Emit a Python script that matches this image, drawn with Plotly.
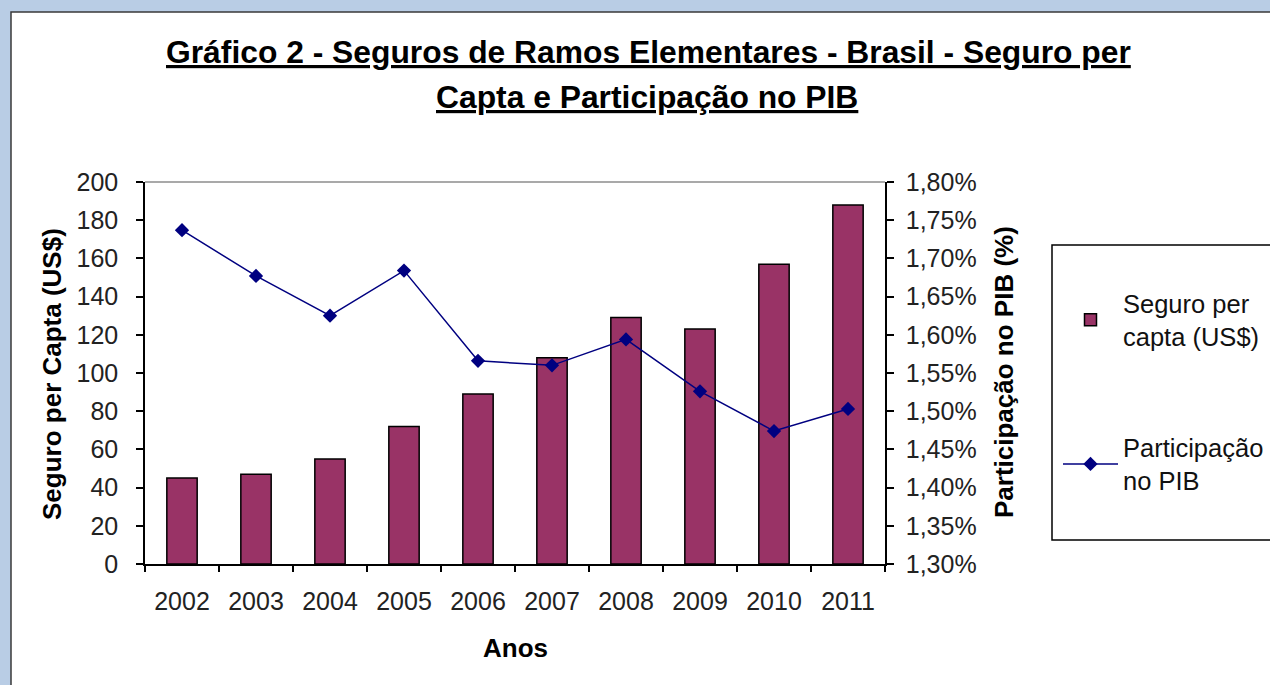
import plotly.graph_objects as go

anos = ["2002", "2003", "2004", "2005", "2006", "2007", "2008", "2009", "2010", "2011"]
seguro_per_capta = [45, 47, 55, 72, 89, 108, 129, 123, 157, 188]
participacao_pib = [1.737, 1.677, 1.625, 1.684, 1.566, 1.560, 1.594, 1.526, 1.474, 1.503]

W, H = 1270, 685
FONT = "Liberation Sans, Arial, sans-serif"

def px(x):
    return x / W

def py(y):
    return 1 - y / H

fig = go.Figure()
fig.add_trace(go.Bar(
    x=anos, y=seguro_per_capta, name="Seguro per<br>capta (US$)",
    marker=dict(color="#993366", line=dict(color="#000000", width=1.5)),
    width=0.41, legendgroup="a", yaxis="y",
))
fig.add_trace(go.Scatter(
    x=anos, y=participacao_pib, name="Participação<br>no PIB",
    mode="lines+markers",
    line=dict(color="#000080", width=1.5),
    marker=dict(symbol="diamond", size=11, color="#000080"),
    legendgroup="b", yaxis="y2",
))

tickfont = dict(family=FONT, size=25, color="#222222")

def ann(text, x, y, size, angle=0):
    return dict(text=text, textangle=angle, xref="paper", yref="paper",
                x=px(x), y=py(y), xanchor="center", yanchor="middle",
                showarrow=False, font=dict(family=FONT, size=size, color="#000000"))

fig.update_layout(
    template="none",
    width=W, height=H,
    paper_bgcolor="#B9CDE5",
    plot_bgcolor="rgba(0,0,0,0)",
    margin=dict(l=0, r=0, t=0, b=0, pad=0, autoexpand=False),
    separators=",.",
    showlegend=True,
    bargap=0.59,
    xaxis=dict(
        domain=[px(145), px(885)], automargin=False,
        type="category", range=[-0.5, len(anos) - 0.5],
        showline=True, linecolor="#000000", linewidth=1.5,
        ticks="outside", ticklen=6, tickcolor="#000000", tickwidth=1.5,
        tickson="boundaries",
        showgrid=False, zeroline=False,
        tickfont=tickfont, ticklabelstandoff=14,
    ),
    yaxis=dict(
        domain=[py(564), py(182)], automargin=False,
        range=[0, 200], dtick=20,
        showline=True, linecolor="#000000", linewidth=1.5,
        ticks="outside", ticklen=7, tickcolor="#000000", tickwidth=1.5,
        showgrid=False, zeroline=False,
        tickfont=tickfont, ticklabelstandoff=13,
    ),
    yaxis2=dict(
        overlaying="y", side="right", anchor="x", automargin=False,
        range=[1.30, 1.80], dtick=0.05, tickformat=".2f", ticksuffix="%",
        showline=True, linecolor="#000000", linewidth=1.5,
        ticks="outside", ticklen=7, tickcolor="#000000", tickwidth=1.5,
        showgrid=False, zeroline=False,
        tickfont=tickfont, ticklabelstandoff=7,
    ),
    legend=dict(
        x=px(1058), y=py(280), xanchor="left", yanchor="top",
        bgcolor="rgba(0,0,0,0)", borderwidth=0,
        font=dict(family=FONT, size=25.5, color="#111111"),
        traceorder="grouped", tracegroupgap=75,
        itemwidth=55,
    ),
    shapes=[
        dict(type="rect", xref="paper", yref="paper",
             x0=px(11), x1=1.02, y0=-0.02, y1=py(12),
             fillcolor="#FFFFFF", line=dict(color="#3A3A3A", width=1.5), layer="below"),
        dict(type="line", xref="x domain", yref="y domain",
             x0=0, x1=1, y0=1, y1=1, line=dict(color="#8C8C8C", width=1.5)),
        dict(type="rect", xref="paper", yref="paper",
             x0=px(1052), x1=1.02, y0=py(540), y1=py(245),
             fillcolor="rgba(0,0,0,0)", line=dict(color="#000000", width=1.5)),
    ],
    annotations=[
        ann("<b><u>Gráfico 2 - Seguros de Ramos Elementares - Brasil - Seguro per</u></b>", 648, 52, 31.8),
        ann("<b><u>Capta e Participação no PIB</u></b>", 647, 97, 31.8),
        ann("<b>Seguro per Capta (US$)</b>", 52, 374, 26, -90),
        ann("<b>Participação no PIB (%)</b>", 1004, 372, 26, -90),
        ann("<b>Anos</b>", 515, 648, 26),
    ],
)

fig.write_html(
    "out.html",
    config={"displayModeBar": False},
    post_script="document.body.style.margin='0';document.body.style.background='#B9CDE5';",
)
